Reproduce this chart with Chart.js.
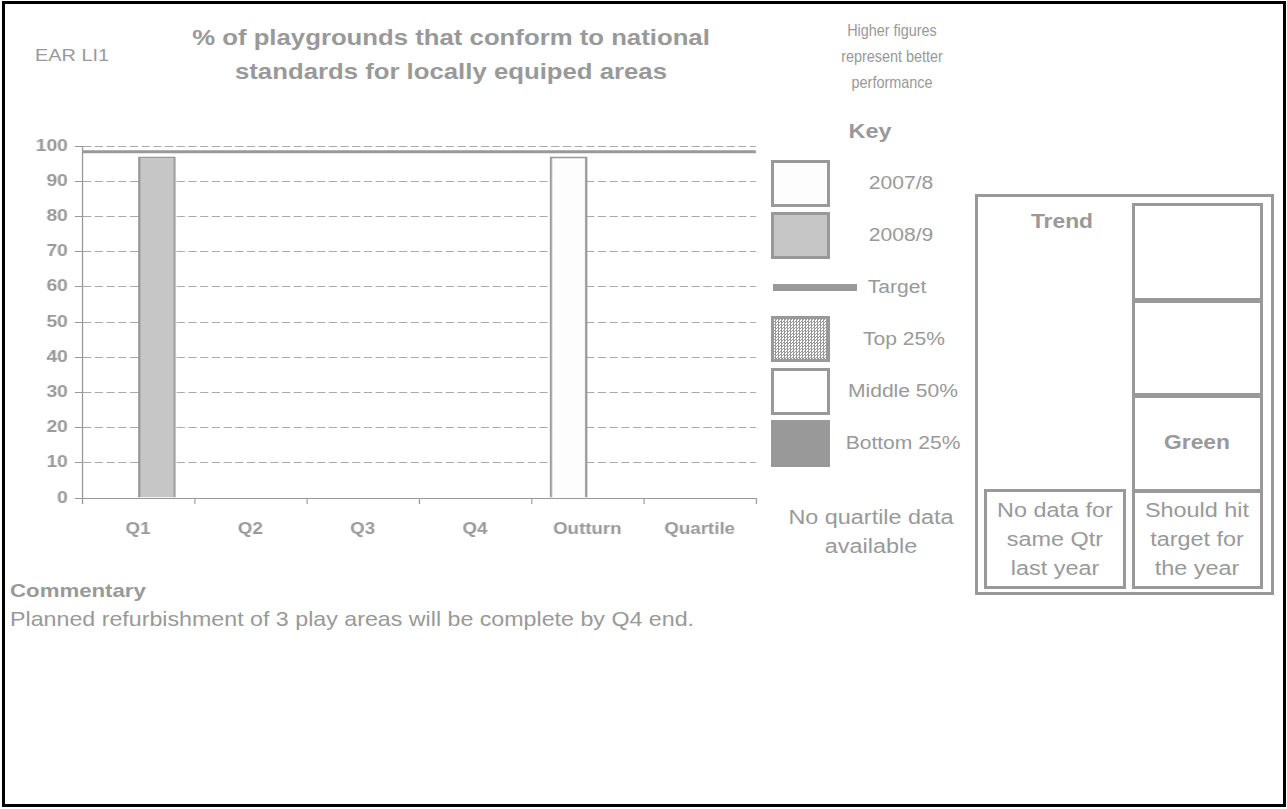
<!DOCTYPE html>
<html>
<head>
<meta charset="utf-8">
<title>EAR LI1</title>
<script src="https://cdn.jsdelivr.net/npm/chart.js@4/dist/chart.umd.min.js"></script>
<style>
  html, body { margin: 0; padding: 0; background: #fff; }
  body { width: 1287px; height: 809px; position: relative; overflow: hidden;
         font-family: "Liberation Sans", Arial, sans-serif; color: #999; }
  .frame { position: absolute; left: 2px; top: 1px; width: 1278px; height: 800px; border: 3px solid #000; }
  /* the report is laid out a little wide, so text is stretched sideways */
  .t { position: absolute; white-space: nowrap; line-height: 1; transform-origin: 0 0; transform: scaleX(1.17); }
  .c { text-align: center; transform-origin: 50% 0; transform: translateX(-50%) scaleX(1.17); }
  .b { font-weight: bold; }
  .box { position: absolute; box-sizing: border-box; border: 3px solid #999; }
  #chart-wrap { position: absolute; left: 0; top: 130px; width: 650px; height: 420px;
                transform-origin: 0 0; transform: scaleX(1.17); }
</style>
</head>
<body>
<div class="frame"></div>

<div class="t" style="left:35px; top:47px; font-size:17px;">EAR LI1</div>
<div class="t c b" style="left:451px; top:21px; font-size:22px; line-height:34px;">% of playgrounds that conform to national<br>standards for locally equiped areas</div>
<div class="t c" style="left:892px; top:18px; font-size:16px; line-height:26px; transform: translateX(-50%) scaleX(0.9);">Higher figures<br>represent better<br>performance</div>

<div id="chart-wrap"><canvas id="kpi-chart"></canvas></div>

<!-- key -->
<div class="t c b" style="left:870px; top:121px; font-size:20px;">Key</div>
<div class="box" style="left:771px; top:160px; width:59px; height:47px; background:#fdfdfd;"></div>
<div class="t c" style="left:901px; top:174px; font-size:18px;">2007/8</div>
<div class="box" style="left:771px; top:212px; width:59px; height:47px; background:#c6c6c6;"></div>
<div class="t c" style="left:901px; top:226px; font-size:18px;">2008/9</div>
<div style="position:absolute; left:773px; top:284px; width:84px; height:7px; background:#999;"></div>
<div class="t c" style="left:897px; top:278px; font-size:18px;">Target</div>
<div class="box" style="left:771px; top:316px; width:59px; height:46px;
     background: repeating-conic-gradient(#999 0 25%, #fff 0 50%) 0 0 / 3px 3px;"></div>
<div class="t c" style="left:904px; top:330px; font-size:18px;">Top 25%</div>
<div class="box" style="left:771px; top:368px; width:59px; height:47px; background:#fff;"></div>
<div class="t c" style="left:903px; top:382px; font-size:18px;">Middle 50%</div>
<div class="box" style="left:771px; top:420px; width:59px; height:47px; background:#999;"></div>
<div class="t c" style="left:903px; top:434px; font-size:18px;">Bottom 25%</div>
<div class="t c" style="left:871px; top:503px; font-size:20px; line-height:29px;">No quartile data<br>available</div>

<!-- trend panel -->
<div class="box" style="left:975px; top:194px; width:299px; height:401px;"></div>
<div class="t c b" style="left:1062px; top:212px; font-size:19.5px;">Trend</div>
<div class="box" style="left:1132px; top:203px; width:131px; height:100px;"></div>
<div class="box" style="left:1132px; top:298px; width:131px; height:100px;"></div>
<div class="box" style="left:1132px; top:393px; width:131px; height:100px;"></div>
<div class="t c b" style="left:1197px; top:433px; font-size:19.5px;">Green</div>
<div class="box" style="left:984px; top:489px; width:142px; height:100px;"></div>
<div class="box" style="left:1132px; top:489px; width:131px; height:100px;"></div>
<div class="t c" style="left:1055px; top:496px; font-size:20px; line-height:29px;">No data for<br>same Qtr<br>last year</div>
<div class="t c" style="left:1197px; top:496px; font-size:20px; line-height:29px;">Should hit<br>target for<br>the year</div>

<!-- commentary -->
<div class="t b" style="left:10px; top:581px; font-size:19px;">Commentary</div>
<div class="t" style="left:10px; top:610px; font-size:19.85px;">Planned refurbishment of 3 play areas will be complete by Q4 end.</div>

<script>
// ---- data ----
const categories = ['Q1', 'Q2', 'Q3', 'Q4', 'Outturn', 'Quartile'];
const lastYear = [null, null, null, null, 97, null];   // 2007/8
const thisYear = [97, null, null, null, null, null];   // 2008/9
const target = 98.4;
const yTicks = [0, 10, 20, 30, 40, 50, 60, 70, 80, 90, 100];

const GREY = '#999';
const FONT = '"Liberation Sans", Arial, sans-serif';

// target is drawn across the full plot width at its y value
const targetLine = {
  id: 'targetLine',
  afterDatasetsDraw(chart) {
    const { ctx, chartArea, scales: { y } } = chart;
    const py = y.getPixelForValue(target);
    ctx.save();
    ctx.strokeStyle = GREY;
    ctx.lineWidth = 3;
    ctx.beginPath();
    ctx.moveTo(chartArea.left, py);
    ctx.lineTo(chartArea.right, py);
    ctx.stroke();
    ctx.restore();
  }
};

const ctx = document.getElementById('kpi-chart').getContext('2d');
new Chart(ctx, {
  type: 'bar',
  data: {
    labels: categories,
    datasets: [
      { label: '2007/8', data: lastYear, backgroundColor: '#fdfdfd', borderColor: GREY, borderWidth: 2 },
      { label: '2008/9', data: thisYear, backgroundColor: '#c6c6c6', borderColor: GREY, borderWidth: 2 }
    ]
  },
  options: {
    responsive: true,
    maintainAspectRatio: false,
    animation: false,
    categoryPercentage: 0.67,
    barPercentage: 1.0,
    layout: { padding: { top: 16, right: 4, left: 0, bottom: 0 } },
    plugins: { legend: { display: false }, tooltip: { enabled: false } },
    scales: {
      x: {
        grid: { display: true, drawOnChartArea: false, offset: true, color: GREY, tickLength: 6 },
        border: { color: GREY, width: 1 },
        ticks: { color: GREY, font: { family: FONT, size: 16, weight: 'bold' }, padding: 16 },
        afterFit: s => { s.height = 52; }
      },
      y: {
        min: 0, max: 100,
        afterBuildTicks: s => { s.ticks = yTicks.map(v => ({ value: v })); },
        grid: { color: '#aaa', tickLength: 6, tickColor: GREY },
        border: { color: GREY, width: 1, dash: [7, 3] },
        ticks: { color: GREY, font: { family: FONT, size: 16.5, weight: 'bold' }, padding: 6 },
        afterFit: s => { s.width = 70; }
      }
    }
  },
  plugins: [targetLine]
});
</script>
</body>
</html>
